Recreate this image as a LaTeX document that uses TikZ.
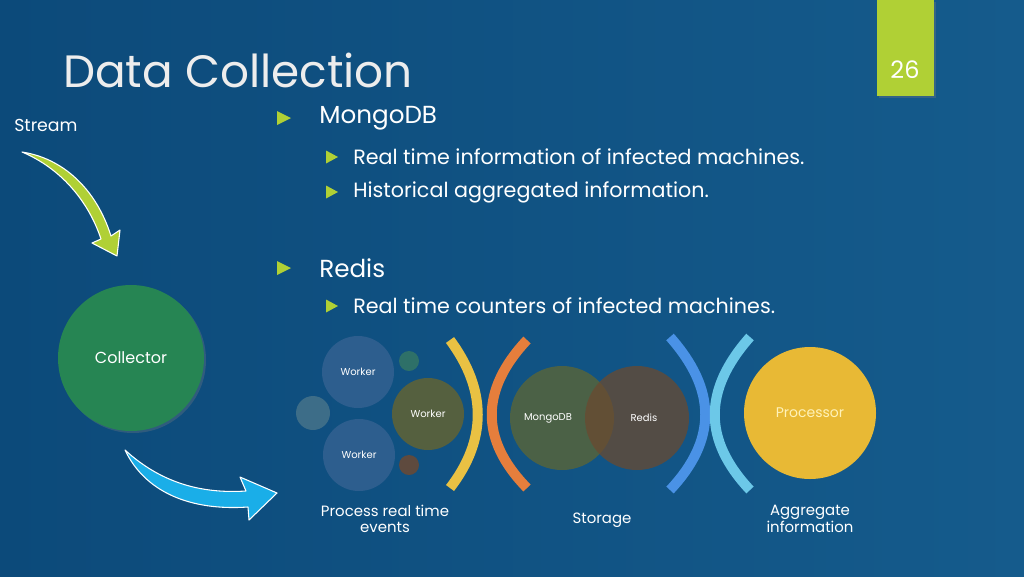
\documentclass[tikz,border=0pt]{standalone}
\usepackage{fontspec}
\setmainfont{Poppins}
\usetikzlibrary{shadows}
\definecolor{bgA}{HTML}{0C4A7A}
\definecolor{bgB}{HTML}{155B8C}
\definecolor{lime}{HTML}{B0D035}
\definecolor{collg}{HTML}{268553}
\definecolor{wblue}{HTML}{2D5E8E}
\definecolor{wolive}{HTML}{55603F}
\definecolor{sgrey}{HTML}{3D6D88}
\definecolor{steal}{HTML}{2E7068}
\definecolor{sbrown}{HTML}{5E4A3E}
\definecolor{arcy}{HTML}{E9C143}
\definecolor{arco}{HTML}{E57E3C}
\definecolor{arcb}{HTML}{4A92E6}
\definecolor{arcl}{HTML}{6CC8E8}
\definecolor{mongo}{HTML}{56643C}
\definecolor{redis}{HTML}{6A4A30}
\definecolor{proc}{HTML}{E8B935}
\definecolor{procT}{HTML}{FFF2B8}
\definecolor{arrb}{HTML}{1AAEE8}
\definecolor{ttl}{HTML}{EDEDED}
\tikzset{
  bubble/.style={circle, inner sep=0pt, text=white, font=\fontsize{7.5}{9}\selectfont},
  arcline/.style={line width=7.5pt, line cap=butt},
  lbl/.style={text=white, align=center, font=\fontsize{11.2}{12.5}\selectfont},
  bul/.style={text=white, anchor=west, inner sep=0pt},
  softshadow/.style={drop shadow={opacity=0.3, shadow xshift=1.5pt, shadow yshift=-1.5pt}},
}
\begin{document}
\begin{tikzpicture}[x=0.75pt,y=-0.75pt]
\useasboundingbox (0,0) rectangle (1024,576);
\shade[left color=bgA, right color=bgB] (0,0) rectangle (1024,576);
% page badge
\fill[lime, softshadow] (877,0) rectangle (934,96);
\node[text=white, font=\fontsize{18}{20}\selectfont] (pg) at (905,70) {26};
% title
\node[anchor=base west, text=ttl, inner sep=0pt, font=\fontsize{34}{38}\selectfont] (title) at (63,87) {Data Collection};
\node[anchor=west, text=white, inner sep=0pt, font=\fontsize{13}{15}\selectfont] (stream) at (14,125) {Stream};
% bullets
\foreach \y in {118,268} \fill[lime] (277,\y-7) -- (291,\y) -- (277,\y+7) -- cycle;
\foreach \y in {157,192,306} \fill[lime] (326,\y-6.5) -- (338,\y) -- (326,\y+6.5) -- cycle;
\node[bul, font=\fontsize{18.5}{20}\selectfont] (b1) at (319,118) {MongoDB};
\node[bul, font=\fontsize{15.5}{17}\selectfont] (b11) at (353,157) {Real time information of infected machines.};
\node[bul, font=\fontsize{15.5}{17}\selectfont] (b12) at (353,192) {Historical aggregated information.};
\node[bul, font=\fontsize{18.5}{20}\selectfont] (b2) at (319,268) {Redis};
\node[bul, font=\fontsize{15.5}{17}\selectfont] (b21) at (353,306) {Real time counters of infected machines.};
% collector
\node[bubble, fill=collg, minimum size=109.5pt, font=\fontsize{12}{14}\selectfont, softshadow] (coll) at (131,358) {Collector};
% green arrow
\filldraw[fill=lime, draw=white, line width=0.8pt, line join=round]
  (22,152) .. controls (62,158) and (96,188) .. (111,236)
  -- (120,230) -- (117,256) -- (92,243) -- (101,239)
  .. controls (88,200) and (60,168) .. (22,152) -- cycle;
% blue arrow
\filldraw[fill=arrb, draw=white, line width=0.8pt, line join=round]
  (125,450) .. controls (160,482) and (200,494) .. (246,491)
  -- (240,477) -- (277,493) -- (249,520) -- (248,507)
  .. controls (190,511) and (145,492) .. (125,450) -- cycle;
% worker cluster
\node[bubble, fill=sgrey, minimum size=25.5pt] (s1) at (313,413) {};
\node[bubble, fill=steal, minimum size=15pt] (s2) at (409,361) {};
\node[bubble, fill=sbrown, minimum size=15pt] (s3) at (409,465) {};
\node[bubble, fill=wblue, minimum size=54pt] (w1) at (358,372) {Worker};
\node[bubble, fill=wblue, minimum size=54pt] (w2) at (359,455) {Worker};
\node[bubble, fill=wolive, minimum size=54pt] (w3) at (428,414) {Worker};
% arcs
\draw[arcline, arcy] (450,340) .. controls (487,390) and (487,440) .. (450,488);
\draw[arcline, arco] (527,340) .. controls (480,390) and (480,440) .. (527,488);
\draw[arcline, arcb] (670,337) .. controls (717,390) and (717,440) .. (670,490);
\draw[arcline, arcl] (750,337) .. controls (703,390) and (703,440) .. (750,490);
% storage
\fill[mongo, opacity=0.85] (562,418) circle[radius=52];
\fill[redis, opacity=0.75] (637,418) circle[radius=52];
\node[bubble] (mdb) at (548,418) {MongoDB};
\node[bubble] (rds) at (644,418) {Redis};
% processor
\node[bubble, fill=proc, minimum size=99pt, text=procT, font=\fontsize{10.5}{12}\selectfont] (proc) at (810,413) {Processor};
% labels
\node[lbl] (l1) at (385,519) {Process real time\\events};
\node[lbl] (l2) at (602,520) {Storage};
\node[lbl] (l3) at (810,519) {Aggregate\\information};
\end{tikzpicture}
\end{document}
